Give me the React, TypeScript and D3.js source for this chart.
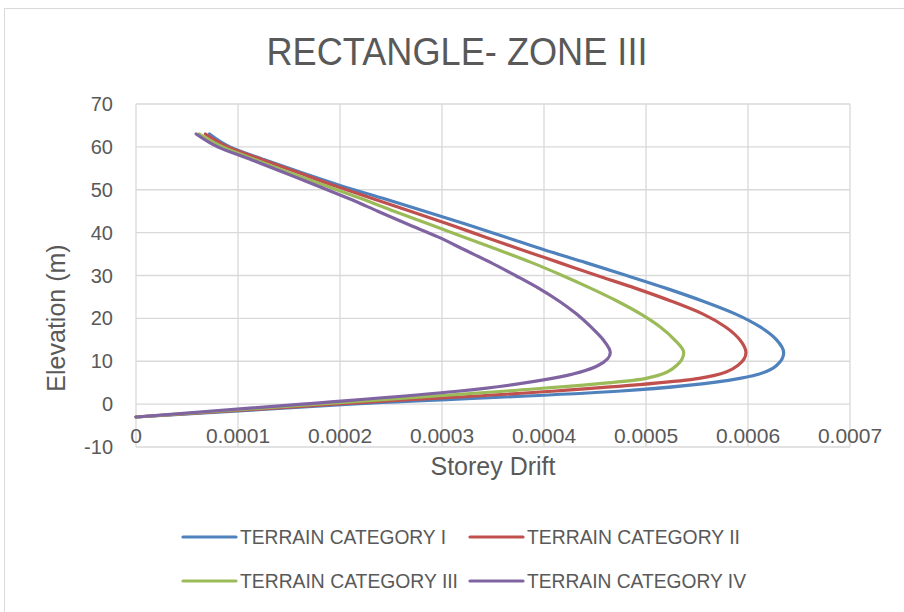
import React from "react";
import * as d3 from "d3";

const title = "RECTANGLE- ZONE III";
const xTitle = "Storey Drift";
const yTitle = "Elevation (m)";
const xTicks = [0, 0.0001, 0.0002, 0.0003, 0.0004, 0.0005, 0.0006, 0.0007];
const xTickLabels = ["0", "0.0001", "0.0002", "0.0003", "0.0004", "0.0005", "0.0006", "0.0007"];
const yTicks = [-10, 0, 10, 20, 30, 40, 50, 60, 70];

const elevations = [-3, 0, 3, 6, 9, 12, 15, 18, 21, 24, 27, 30, 33, 36, 39, 42, 45, 48, 51, 54, 57, 60, 63];
const seriesNames = ["TERRAIN CATEGORY I", "TERRAIN CATEGORY II", "TERRAIN CATEGORY III", "TERRAIN CATEGORY IV"];
const driftI = [0, 0.00021, 0.000472, 0.000592, 0.000628, 0.000635, 0.000628, 0.000612, 0.000588, 0.000556, 0.00052, 0.000481, 0.000441, 0.0004, 0.000362, 0.000323, 0.000283, 0.000242, 0.0002, 0.000162, 0.000126, 0.000092, 0.000072];
const driftII = [0, 0.000195, 0.000408, 0.000552, 0.00059, 0.000598, 0.000592, 0.000578, 0.000556, 0.000525, 0.00049, 0.000452, 0.000415, 0.000378, 0.000342, 0.000306, 0.000269, 0.000231, 0.000194, 0.000159, 0.000124, 0.00009, 0.000068];
const driftIII = [0, 0.000178, 0.00036, 0.0005, 0.00053, 0.000537, 0.000528, 0.000514, 0.000495, 0.000472, 0.000446, 0.000418, 0.000388, 0.000355, 0.000321, 0.000287, 0.000253, 0.00022, 0.000185, 0.00015, 0.000117, 0.000085, 0.000062];
const driftIV = [0, 0.000163, 0.000315, 0.000408, 0.000453, 0.000465, 0.000458, 0.000446, 0.000432, 0.000415, 0.000395, 0.000372, 0.000348, 0.000322, 0.000296, 0.000266, 0.000237, 0.000208, 0.000177, 0.000145, 0.000113, 0.00008, 0.000059];
const seriesValues = [driftI, driftII, driftIII, driftIV];
const colors = ["#4F81BD", "#C0504D", "#9BBB59", "#8064A2"];

export default function App() {
  const W = 904;
  const H = 612;
  const x = d3.scaleLinear().domain([0, 0.0007]).range([136, 850]);
  const y = d3.scaleLinear().domain([-10, 70]).range([447, 104]);
  const line = d3
    .line<[number, number]>()
    .x((d) => x(d[0]))
    .y((d) => y(d[1]))
    .curve(d3.curveMonotoneY);
  const grid = "#d9d9d9";
  const txt = "#595959";
  const font = "'Liberation Sans', Arial, sans-serif";
  const legendPos = [
    { lx: 183, ty: 537 },
    { lx: 470, ty: 537 },
    { lx: 183, ty: 581 },
    { lx: 470, ty: 581 },
  ];
  const legendWidths = [206, 213, 218, 219];
  return (
    <svg width={W} height={H} style={{ position: "absolute", left: 0, top: 0, background: "#fff" }}>
      <rect x={0} y={0} width={W} height={H} fill="#fff" />
      <rect x={4.5} y={8.5} width={W + 20} height={H + 20} fill="#fff" stroke="#d9d9d9" strokeWidth={1} />
      <text x={457} y={65} textAnchor="middle" fontFamily={font} fontSize={38} fill={txt} textLength={381} lengthAdjust="spacingAndGlyphs">
        {title}
      </text>
      {yTicks.map((t) => (
        <line key={"gy" + t} x1={x(0)} x2={x(0.0007)} y1={y(t)} y2={y(t)} stroke={grid} strokeWidth={1.3} />
      ))}
      {xTicks.map((t) => (
        <line key={"gx" + t} x1={x(t)} x2={x(t)} y1={y(-10)} y2={y(70)} stroke={grid} strokeWidth={1.3} />
      ))}
      {yTicks.map((t) => (
        <text key={"ty" + t} x={113} y={y(t) + 7} textAnchor="end" fontFamily={font} fontSize={20} fill={txt}>
          {t}
        </text>
      ))}
      {xTicks.map((t, i) => (
        <text key={"tx" + t} x={x(t)} y={443} textAnchor="middle" fontFamily={font} fontSize={21} fill={txt}>
          {xTickLabels[i]}
        </text>
      ))}
      <text x={(x(0) + x(0.0007)) / 2} y={475} textAnchor="middle" fontFamily={font} fontSize={25} fill={txt}>
        {xTitle}
      </text>
      <text
        transform={`translate(65, 318) rotate(-90)`}
        textAnchor="middle"
        fontFamily={font}
        fontSize={25}
        fill={txt}
      >
        {yTitle}
      </text>
      {seriesValues.map((vals, i) => (
        <path
          key={"s" + i}
          d={line(vals.map((v, j) => [v, elevations[j]] as [number, number])) || ""}
          fill="none"
          stroke={colors[i]}
          strokeWidth={3.2}
          strokeLinejoin="round"
          strokeLinecap="round"
        />
      ))}
      {seriesNames.map((n, i) => (
        <g key={"lg" + i}>
          <line x1={legendPos[i].lx} x2={legendPos[i].lx + 53} y1={legendPos[i].ty} y2={legendPos[i].ty} stroke={colors[i]} strokeWidth={3.2} strokeLinecap="round" />
          <text x={legendPos[i].lx + 57} y={legendPos[i].ty + 7} fontFamily={font} fontSize={20} fill={txt} textLength={legendWidths[i]} lengthAdjust="spacingAndGlyphs">
            {n}
          </text>
        </g>
      ))}
    </svg>
  );
}
